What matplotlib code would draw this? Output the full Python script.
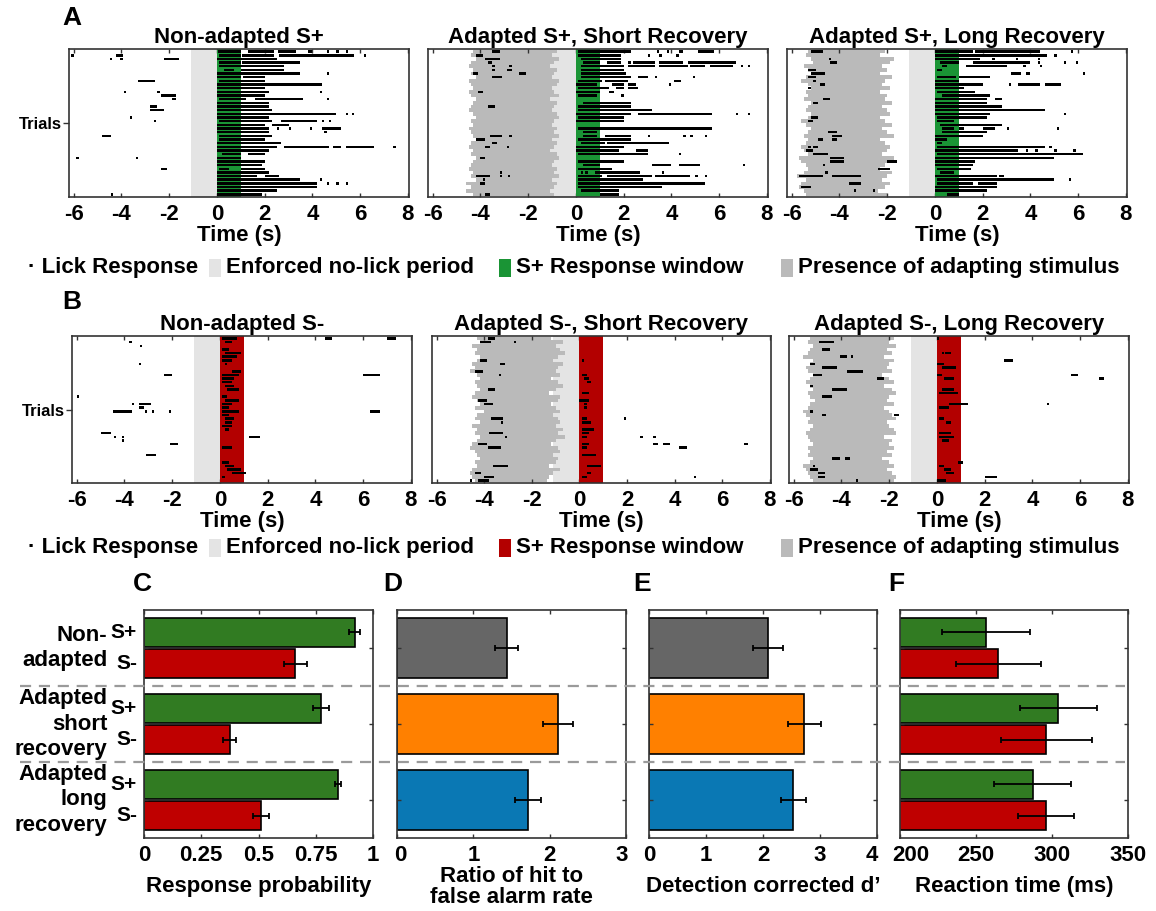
import numpy as np
import matplotlib
matplotlib.use("Agg")
import matplotlib.pyplot as plt
from matplotlib.patches import Rectangle
from matplotlib.lines import Line2D
from matplotlib import transforms

plt.rcParams['font.family'] = ['Liberation Sans', 'DejaVu Sans']
plt.rcParams['font.weight'] = 'bold'
plt.rcParams['axes.titleweight'] = 'bold'
plt.rcParams['axes.labelweight'] = 'bold'
plt.rcParams['axes.unicode_minus'] = False

# ---------------- raster data ----------------
n_trials = 40
nolick_period = (-1.1, 0.0)
response_window = (0.0, 1.0)
raster_ticks = [-6, -4, -2, 0, 2, 4, 6, 8]

# adapting stimulus on/off per trial (s)
adapt_splus_short_on = [-4.3, -4.4, -4.2, -4.4, -4.5, -4.3, -4.4, -4.2, -4.5, -4.4,
                        -4.3, -4.5, -4.4, -4.2, -4.3, -4.4, -4.5, -4.3, -4.2, -4.4,
                        -4.3, -4.5, -4.4, -4.3, -4.2, -4.4, -4.5, -4.3, -4.4, -4.2,
                        -4.3, -4.4, -4.5, -4.3, -4.4, -4.2, -4.6, -4.4, -4.6, -4.3]
adapt_splus_short_off = [-0.8, -1.0, -0.7, -0.9, -1.1, -0.8, -0.9, -1.0, -0.7, -0.8,
                         -1.0, -0.9, -0.7, -1.1, -0.8, -0.9, -1.0, -0.8, -0.7, -0.9,
                         -1.0, -0.8, -0.9, -0.7, -1.0, -0.8, -0.9, -1.1, -0.8, -0.7,
                         -0.9, -1.0, -0.8, -0.9, -0.7, -1.0, -0.8, -0.9, -1.1, -0.9]
adapt_splus_long_on = [-5.3, -5.4, -5.2, -5.1, -5.5, -5.3, -5.2, -5.4, -5.6, -5.3,
                       -5.2, -5.4, -5.3, -5.5, -5.2, -5.3, -5.4, -5.2, -5.3, -5.6,
                       -5.4, -5.2, -5.3, -5.5, -5.3, -5.4, -5.6, -5.5, -5.3, -5.7,
                       -5.6, -5.4, -5.3, -5.5, -5.8, -5.4, -5.6, -5.7, -5.5, -5.4]
adapt_splus_long_off = [-2.1, -2.3, -1.7, -1.9, -2.2, -2.0, -2.3, -1.8, -2.1, -2.2,
                        -1.9, -2.3, -2.0, -2.1, -1.8, -2.2, -2.0, -1.9, -2.3, -2.1,
                        -1.8, -2.2, -2.0, -1.7, -2.3, -2.1, -1.9, -2.0, -2.2, -1.7,
                        -1.9, -2.1, -2.3, -1.8, -2.0, -2.2, -1.9, -2.1, -2.4, -2.0]
adapt_sminus_short_on = [-4.3, -4.2, -4.5, -4.3, -4.4, -4.2, -4.3, -4.5, -4.4, -4.6,
                         -4.3, -4.2, -4.4, -4.3, -4.2, -4.4, -4.5, -4.3, -4.2, -4.4,
                         -4.0, -4.3, -4.4, -4.2, -4.5, -4.3, -4.4, -4.2, -4.3, -4.5,
                         -4.6, -4.4, -4.3, -4.2, -4.4, -4.3, -4.5, -4.6, -4.5, -4.4]
adapt_sminus_short_off = [-1.2, -0.7, -1.0, -0.8, -0.6, -0.9, -1.1, -0.7, -0.9, -1.0,
                          -0.8, -1.2, -0.9, -0.7, -1.0, -1.3, -0.8, -0.9, -1.2, -1.0,
                          -0.8, -1.1, -0.9, -0.8, -1.0, -0.7, -0.9, -0.6, -1.0, -1.2,
                          -0.9, -0.8, -1.1, -0.9, -1.0, -1.3, -0.8, -1.1, -1.3, -1.35]
adapt_sminus_long_on = [-5.3, -5.4, -5.2, -5.3, -5.4, -5.6, -5.2, -5.3, -5.5, -5.4,
                        -5.2, -5.3, -5.5, -5.3, -5.2, -5.4, -5.3, -5.1, -5.3, -5.4,
                        -5.6, -5.5, -5.3, -5.4, -5.2, -5.3, -5.5, -5.4, -5.3, -5.2,
                        -5.4, -5.3, -5.4, -5.2, -5.3, -5.6, -5.5, -5.4, -5.3, -5.2]
adapt_sminus_long_off = [-1.8, -2.0, -1.7, -2.1, -1.9, -2.2, -1.8, -2.0, -2.1, -1.9,
                         -2.3, -2.0, -1.8, -2.2, -1.9, -1.7, -2.0, -2.1, -1.8, -2.2,
                         -2.0, -1.9, -1.7, -2.1, -2.0, -1.8, -1.7, -2.2, -1.9, -2.0,
                         -1.8, -2.1, -1.9, -2.3, -2.0, -1.8, -2.1, -1.9, -1.7, -1.8]

# lick bouts: (trial, start s, end s)
licks_splus_non = [
    (0, 0.05, 1.0), (0, 1.3, 2.4), (0, 2.55, 3.3), (0, 3.8, 4.0), (0, 4.6, 4.7), (0, 5.0, 5.1), (0, 5.4, 5.5),
    (1, -6.1, -6.0), (1, -4.25, -3.95), (1, 0.1, 1.0), (1, 1.05, 2.4), (1, 2.6, 5.75), (1, 6.15, 6.25),
    (2, -4.5, -4.4), (2, -4.05, -3.95), (2, -2.2, -1.6), (2, 0.0, 2.5),
    (3, 0.1, 1.0), (3, 1.05, 3.5), (4, 0.1, 2.8), (5, 0.3, 0.7), (5, 1.0, 2.8),
    (6, 0.0, 3.5), (6, 4.6, 4.7), (7, 0.0, 1.0), (7, 1.1, 2.0),
    (8, -3.3, -2.6), (8, 0.1, 2.0), (9, 0.0, 4.4), (10, 0.0, 2.0),
    (11, -3.9, -3.8), (11, -2.5, -2.4), (11, 0.0, 2.2), (11, 4.3, 4.4),
    (12, -2.35, -1.7), (12, 0.0, 2.0),
    (13, -1.9, -1.7), (13, 0.1, 1.2), (13, 1.6, 3.6), (13, 4.6, 4.7),
    (14, 0.0, 2.2), (15, -2.8, -2.5), (15, 0.0, 2.2), (16, -2.8, -2.2), (16, 0.0, 2.3),
    (17, 0.0, 5.0), (17, 5.4, 5.5), (17, 5.65, 5.75),
    (18, -3.65, -3.55), (18, 0.0, 2.2),
    (19, -2.65, -2.55), (19, 0.1, 2.3), (19, 2.7, 4.2), (19, 4.4, 4.5), (19, 4.7, 4.8),
    (20, 0.0, 2.0), (20, 2.3, 3.0),
    (21, 0.0, 2.2), (21, 2.5, 2.6), (21, 3.0, 3.1), (21, 3.9, 4.0), (21, 4.4, 5.2),
    (22, 0.0, 2.2), (22, 4.5, 4.6), (23, -4.8, -4.45), (23, 0.1, 2.3),
    (24, 0.1, 1.0), (24, 1.0, 2.0), (25, 0.0, 2.7),
    (26, 0.0, 2.5), (26, 2.8, 4.7), (26, 4.85, 5.2), (26, 5.4, 6.6), (26, 7.4, 7.5),
    (27, 0.0, 2.2), (28, 0.2, 1.0), (28, 1.3, 2.0),
    (29, -5.9, -5.8), (29, -3.4, -3.3), (29, 0.0, 1.0),
    (30, 0.0, 2.0), (31, 0.0, 1.9), (32, -2.35, -2.1), (32, 0.1, 0.5), (32, 1.0, 2.0),
    (33, 0.0, 2.2), (34, 0.0, 1.7), (34, 2.0, 2.6), (35, 0.0, 3.5), (35, 4.3, 4.4),
    (36, 0.0, 4.2), (36, 4.6, 4.7), (36, 5.0, 5.1), (36, 5.4, 5.5),
    (37, 0.0, 4.2), (38, 0.0, 2.5), (39, -4.45, -4.35), (39, 0.0, 1.9),
]
licks_splus_short = [
    (0, -3.5, -3.2), (0, 0.1, 2.3), (0, 3.4, 3.5), (0, 3.8, 3.9), (0, 4.3, 4.5), (0, 5.1, 5.8),
    (1, -4.2, -3.9), (1, 0.1, 1.9), (1, 3.0, 3.1), (1, 3.5, 3.6), (1, 4.2, 4.3),
    (2, -3.8, -3.2), (2, 0.2, 1.9),
    (3, -3.7, -3.5), (3, 0.3, 1.0), (3, 1.3, 1.9), (3, 2.2, 2.3), (3, 2.4, 3.3), (3, 3.5, 4.5), (3, 4.7, 6.7),
    (4, -3.5, -3.4), (4, -2.8, -2.7), (4, 0.2, 1.0), (4, 1.0, 2.0), (4, 2.2, 3.3), (4, 3.5, 4.7),
    (4, 4.8, 5.4), (4, 5.6, 6.6), (4, 6.9, 7.0), (4, 7.2, 7.3),
    (5, -3.5, -3.4), (5, -2.9, -2.7), (5, 0.2, 2.0),
    (6, -4.3, -4.1), (6, -2.4, -2.1), (6, 0.2, 2.1),
    (7, -3.5, -3.1), (7, 0.2, 2.3), (7, 2.6, 3.0), (7, 3.3, 3.4), (7, 4.9, 5.0),
    (8, 0.1, 1.1), (8, 1.2, 2.2), (8, 4.1, 4.4),
    (9, 0.0, 0.9), (9, 1.5, 2.0), (9, 2.2, 2.5), (9, 3.9, 4.0),
    (10, 0.1, 1.4), (10, 1.7, 2.0), (10, 2.2, 2.6),
    (11, -4.1, -3.9), (11, 0.0, 1.0), (11, 1.4, 1.6), (12, 0.1, 0.9), (12, 1.9, 2.0),
    (14, 0.3, 2.3), (15, -3.7, -3.4), (15, 0.1, 2.3), (16, 0.1, 3.2),
    (17, 0.0, 2.3), (17, 2.6, 5.7), (17, 6.7, 6.8), (17, 7.2, 7.3),
    (18, 0.1, 2.0), (19, 0.0, 2.0), (21, 0.1, 5.7), (22, 0.3, 0.9),
    (23, -3.6, -3.1), (23, -2.8, -2.7), (23, 0.3, 0.9), (23, 1.2, 2.3), (23, 3.0, 3.1),
    (23, 4.5, 4.6), (23, 4.8, 4.9), (23, 5.4, 5.5),
    (24, -4.2, -3.8), (24, 0.1, 2.3), (25, -3.5, -3.3), (25, 0.2, 1.2), (25, 1.3, 3.9),
    (26, -3.8, -3.6), (26, -2.9, -2.8), (26, 0.0, 2.0), (27, 0.0, 1.8), (27, 2.5, 3.0),
    (28, 0.1, 3.0), (28, 4.3, 4.4), (29, -4.0, -3.8), (30, 0.1, 1.5), (30, 1.5, 2.0),
    (31, 0.3, 1.0), (31, 3.2, 4.0), (31, 4.3, 5.2), (31, 7.0, 7.1),
    (32, 0.1, 1.0), (32, 1.0, 1.5),
    (33, -3.2, -3.1), (33, 0.2, 0.3), (33, 0.4, 0.5), (33, 0.8, 2.7), (33, 3.6, 3.7),
    (34, -4.2, -3.6), (34, -3.2, -3.1), (34, -2.85, -2.75), (34, 0.1, 1.1), (34, 1.3, 3.2),
    (34, 3.3, 4.8), (34, 5.0, 5.1), (34, 5.4, 5.5),
    (35, -3.9, -3.8), (35, 0.1, 2.8), (36, -4.0, -3.8), (36, 0.1, 5.4),
    (37, 0.1, 3.6), (38, 0.2, 1.8), (39, -3.8, -3.6), (39, 1.0, 1.8),
]
licks_splus_long = [
    (0, -5.2, -4.7), (0, 0.0, 1.6), (0, 1.7, 4.4), (0, 5.7, 5.8),
    (1, 0.0, 1.0), (1, 1.0, 4.7), (1, 5.0, 5.1),
    (2, -4.45, -4.35), (2, 0.0, 1.9), (2, 2.4, 2.5), (2, 3.4, 3.5), (2, 4.3, 4.4),
    (3, -4.4, -4.1), (3, 0.2, 1.0), (3, 1.6, 4.0), (3, 4.3, 4.4), (3, 5.4, 5.5), (3, 5.9, 6.0),
    (4, 0.3, 0.5), (4, 1.3, 3.0), (4, 3.7, 3.8), (4, 4.4, 4.5),
    (5, -5.3, -5.0), (5, 0.1, 0.3),
    (6, -5.2, -4.6), (6, 3.2, 3.6), (6, 3.8, 4.0), (6, 6.2, 6.3),
    (7, -5.3, -5.0), (7, 0.1, 0.9), (7, 1.0, 2.3), (8, -5.1, -5.0), (8, 0.0, 1.0),
    (9, -4.8, -4.6), (9, 0.0, 2.0), (9, 3.1, 3.2), (9, 3.5, 4.4), (9, 4.6, 5.3),
    (10, -5.3, -5.2), (10, 0.0, 1.2), (11, 0.1, 1.7), (12, 0.3, 1.5), (12, 1.5, 2.3),
    (13, -4.7, -4.4), (13, 0.0, 2.2), (13, 2.5, 2.8), (14, -5.1, -4.9), (14, 0.0, 2.2),
    (15, 0.0, 2.8), (16, 0.0, 2.0), (16, 2.0, 4.6), (17, 0.0, 2.3), (17, 5.4, 5.5),
    (18, -5.2, -4.9), (18, 0.1, 2.2), (19, -5.3, -5.1), (19, 0.1, 0.8), (20, 0.2, 2.8),
    (21, 0.3, 0.8), (21, 1.0, 1.2), (21, 2.0, 2.5), (21, 3.0, 3.1), (21, 5.1, 5.2),
    (22, -4.5, -4.1), (22, 0.3, 1.2), (22, 1.2, 2.2), (23, -4.3, -3.9), (23, 0.0, 2.0),
    (24, -4.9, -4.7), (24, -4.3, -4.1), (24, 0.0, 0.5), (25, 0.1, 0.3),
    (26, -5.3, -5.2), (26, -5.1, -4.9), (26, 0.1, 4.6), (26, 4.8, 4.9),
    (27, -5.4, -5.1), (27, 0.0, 3.5), (27, 3.8, 3.9), (27, 4.2, 4.3), (27, 5.0, 5.1), (27, 5.8, 5.9),
    (28, -5.1, -4.5), (28, 0.1, 6.2), (29, -4.4, -3.8), (29, 0.0, 2.0), (29, 2.0, 5.0),
    (30, -4.4, -3.8), (30, -2.0, -1.6), (30, 0.0, 1.7), (31, -4.7, -4.6), (31, 0.0, 1.6),
    (32, -2.4, -1.9), (32, 0.1, 1.5), (33, -4.6, -4.5), (33, 0.2, 0.8),
    (34, -5.7, -4.7), (34, -4.3, -3.1), (34, 0.0, 1.0), (34, 1.0, 2.6), (34, 2.7, 2.9),
    (35, 0.1, 5.0), (35, 5.6, 5.7), (36, -3.6, -3.1), (36, 0.1, 1.6), (36, 1.8, 2.6),
    (37, -5.6, -5.2), (37, 0.0, 2.6), (38, -3.4, -3.3), (38, -2.6, -2.5), (38, 0.0, 2.2),
    (39, 0.5, 1.0),
]
licks_sminus_non = [
    (0, 0.1, 0.7), (0, 4.4, 4.7), (0, 7.0, 7.4), (1, -3.8, -3.7), (1, 0.2, 0.5),
    (2, -3.35, -3.25), (3, 0.1, 0.4), (4, 0.2, 0.9), (5, 0.1, 0.7), (6, 0.1, 0.5),
    (7, -3.4, -3.3), (7, 0.2, 0.3), (9, 0.5, 0.9), (10, -2.35, -2.0), (10, 0.1, 0.8),
    (10, 6.0, 6.7), (11, 0.1, 0.6), (12, 0.1, 0.5), (13, 0.2, 0.6), (14, 0.3, 0.8),
    (16, -6.0, -5.9), (16, 0.1, 0.3), (17, 0.2, 0.8),
    (18, -3.7, -3.6), (18, -3.4, -2.9), (18, 0.1, 0.5), (19, -3.4, -3.2), (19, 0.1, 0.4),
    (20, -4.5, -3.7), (20, -3.15, -3.05), (20, -2.85, -2.75), (20, -2.15, -2.05),
    (20, 0.1, 0.8), (20, 6.3, 6.7), (21, 0.1, 0.4), (22, 0.2, 0.6), (23, 0.2, 0.5),
    (24, 0.1, 0.5), (25, 0.2, 0.4), (26, -5.0, -4.55),
    (27, -4.45, -4.35), (27, -4.1, -4.0), (27, 1.2, 1.7), (28, -4.1, -4.0),
    (29, -2.1, -1.75), (30, 0.1, 0.5), (32, -3.1, -2.7), (34, 0.1, 0.4),
    (35, 0.2, 0.6), (36, 0.3, 0.9), (37, 0.5, 1.1), (38, 0.1, 0.2),
]
licks_sminus_short = [
    (0, -3.85, -3.55), (1, -4.2, -3.7), (1, -2.75, -2.65), (6, -4.2, -3.9), (6, 0.1, 0.2),
    (7, -3.35, -3.15), (9, -4.4, -4.05), (10, -3.4, -3.3), (10, 0.1, 0.3), (11, 0.2, 0.4),
    (12, 0.3, 0.5), (14, -3.85, -3.55), (15, 0.1, 0.4), (17, -4.25, -3.9), (17, 0.0, 0.4),
    (18, -4.0, -3.65), (18, 0.2, 0.3), (19, 0.2, 0.3),
    (22, -3.7, -3.2), (22, 0.1, 0.3), (22, 1.85, 1.95), (23, -3.3, -3.2), (23, 0.1, 0.5),
    (25, 0.1, 0.6), (26, -3.8, -3.2), (26, 0.1, 0.4), (27, 0.1, 0.3),
    (27, -3.15, -3.05), (27, 2.55, 2.65), (27, 3.1, 3.2),
    (29, -4.25, -3.9), (29, 0.1, 0.4), (29, 3.1, 3.3), (29, 3.5, 3.8), (29, 6.9, 7.1),
    (30, -3.85, -3.3), (30, 0.1, 0.3), (30, 4.2, 4.5), (32, 0.1, 0.7),
    (35, -3.65, -3.0), (35, 0.3, 0.9), (37, -4.4, -4.15), (37, 0.3, 0.5),
    (38, -4.0, -3.6), (38, 0.1, 0.3), (38, 4.8, 4.9), (39, -4.25, -3.8), (39, -4.6, -4.5),
]
licks_sminus_long = [
    (0, 0.0, 0.1), (1, -4.95, -4.3), (3, -4.8, -4.5), (4, 0.2, 0.3), (4, 0.35, 0.6),
    (5, -4.05, -3.75), (5, -3.6, -3.5), (6, 2.8, 3.2), (7, -5.3, -5.1), (7, 0.0, 0.3),
    (8, -4.8, -4.2), (8, 0.2, 0.8), (9, -3.75, -3.1), (10, -5.2, -4.8), (10, 0.0, 0.2),
    (10, 5.6, 5.9), (11, -2.5, -2.2), (11, 0.3, 0.7), (11, 6.8, 7.0), (13, -5.3, -5.2),
    (14, -4.4, -3.75), (14, 0.2, 0.7), (15, 0.1, 0.9), (16, -4.8, -4.4),
    (18, 0.5, 1.3), (18, 4.6, 4.7), (19, 0.1, 0.5), (20, -5.3, -5.2),
    (21, -4.8, -4.65), (21, -1.8, -1.6), (22, 0.1, 0.3), (23, 0.4, 0.6),
    (26, 0.1, 0.6), (27, 0.1, 0.7), (28, 0.2, 0.5), (33, -4.4, -4.05), (33, -3.85, -3.65),
    (34, 0.9, 1.1), (35, -5.2, -5.1), (35, 0.1, 0.3), (36, -5.3, -5.0), (36, 0.3, 0.6),
    (37, -5.0, -4.7), (37, 0.4, 0.7), (38, -5.0, -4.7), (38, 2.0, 2.5),
    (39, -3.4, -3.3), (39, 0.0, 0.4),
]

# ---------------- summary data ----------------
conditions = ["Non-\nadapted", "Adapted\nshort\nrecovery", "Adapted\nlong\nrecovery"]
stim_labels = ["S+", "S-"]
resp_prob = [0.92, 0.661, 0.772, 0.375, 0.847, 0.51]
resp_prob_err = [0.023, 0.05, 0.036, 0.028, 0.015, 0.035]
hit_fa_ratio = [1.437, 2.11, 1.716]
hit_fa_ratio_err = [0.148, 0.195, 0.175]
dprime = [2.09, 2.72, 2.53]
dprime_err = [0.266, 0.29, 0.216]
reaction_time = [256.7, 264.8, 304.2, 296.3, 287.4, 296.3]
reaction_time_err = [29.0, 28.2, 25.2, 30.0, 25.4, 18.5]

GREEN = '#1a9435'
RED = '#b30000'
NOLICK = '#e4e4e4'
ADAPT = '#bababa'
BAR_GREEN = '#317b22'
BAR_RED = '#bf0000'
COND_COLORS = ['#666666', '#ff8000', '#0a78b4']

W, H = 1156, 911
fig = plt.figure(figsize=(W / 100, H / 100), dpi=100)


def add_ax(left, top, right, bottom):
    return fig.add_axes([left / W, 1 - bottom / H, (right - left) / W, (bottom - top) / H])


def style_axes(ax):
    for sp in ax.spines.values():
        sp.set_color('#333333')
        sp.set_linewidth(1.2)
    ax.tick_params(direction='in', top=True, right=True, length=3, width=1,
                   labelsize=16, pad=5, color='#333333')


def shift_label(label, dx_px):
    label.set_transform(label.get_transform() +
                        transforms.ScaledTranslation(dx_px / 100, 0, fig.dpi_scale_trans))


def raster(ax, licks, adapt_on, adapt_off, win_color, title, trials_label):
    ax.axvspan(*nolick_period, color=NOLICK, lw=0, zorder=0)
    if adapt_on is not None:
        on = np.array(adapt_on)
        off = np.array(adapt_off)
        ax.barh(np.arange(n_trials), off - on, left=on, height=1.0,
                color=ADAPT, lw=0, zorder=1)
    ax.axvspan(*response_window, color=win_color, lw=0, zorder=2)
    tr, t0, t1 = np.array(licks).T
    ax.barh(tr, np.maximum(t1 - t0, 0.1), left=t0, height=0.7, color='black', lw=0, zorder=3)
    ax.set_xlim(-6.2, 8.05)
    ax.set_ylim(n_trials - 0.3, -0.7)
    ax.set_xticks(raster_ticks)
    style_axes(ax)
    ax.tick_params(axis='y', right=False)
    if trials_label:
        ax.set_yticks([n_trials / 2 - 0.5])
        ax.set_yticklabels(['Trials'])
        ax.tick_params(axis='y', direction='out', length=4, labelsize=12, pad=1)
    else:
        ax.set_yticks([])
    ax.set_xlabel('Time (s)', fontsize=16, labelpad=0)
    ax.set_title(title, fontsize=16, pad=4)


row_a = [(69, 409), (428, 768), (787, 1127)]
row_b = [(72, 412), (432, 771), (789, 1129)]

panels_a = [
    (licks_splus_non, None, None, 'Non-adapted S+'),
    (licks_splus_short, adapt_splus_short_on, adapt_splus_short_off, 'Adapted S+, Short Recovery'),
    (licks_splus_long, adapt_splus_long_on, adapt_splus_long_off, 'Adapted S+, Long Recovery'),
]
panels_b = [
    (licks_sminus_non, None, None, 'Non-adapted S-'),
    (licks_sminus_short, adapt_sminus_short_on, adapt_sminus_short_off, 'Adapted S-, Short Recovery'),
    (licks_sminus_long, adapt_sminus_long_on, adapt_sminus_long_off, 'Adapted S-, Long Recovery'),
]
for i, ((l, r), p) in enumerate(zip(row_a, panels_a)):
    ax = add_ax(l, 49, r, 197)
    raster(ax, p[0], p[1], p[2], GREEN, p[3], i == 0)
for i, ((l, r), p) in enumerate(zip(row_b, panels_b)):
    ax = add_ax(l, 336, r, 483)
    raster(ax, p[0], p[1], p[2], RED, p[3], i == 0)


def legend_row(y, win_color):
    yc = 1 - y / H
    fig.text(28 / W, yc, '\u00b7 Lick Response', fontsize=16, va='center', ha='left')
    for x0, c, label in [(209, NOLICK, 'Enforced no-lick period'),
                         (499, win_color, 'S+ Response window'),
                         (781, ADAPT, 'Presence of adapting stimulus')]:
        fig.add_artist(Rectangle((x0 / W, yc - 9 / H), 12 / W, 18 / H,
                                 transform=fig.transFigure, color=c, lw=0))
        fig.text((x0 + 17) / W, yc, label, fontsize=16, va='center', ha='left')


legend_row(268, GREEN)
legend_row(548, RED)

# ---------------- bar panels ----------------
pair_pos = np.array([0, 1, 2.4, 3.4, 4.8, 5.8])
group_pos = np.array([0.5, 2.9, 5.3])
ylims = (6.5, -0.7)
err_kw = dict(ecolor='black', elinewidth=1.3, capsize=2.5, capthick=1.3)
pair_colors = [BAR_GREEN, BAR_RED] * 3

axC = add_ax(144, 610, 373, 838)
axC.barh(pair_pos, resp_prob, height=0.92, color=pair_colors, edgecolor='black',
         lw=1.2, xerr=resp_prob_err, error_kw=err_kw)
axC.set_xlim(0, 1)
axC.set_xticks([0, 0.25, 0.5, 0.75, 1])
axC.set_xticklabels(['0', '0.25', '0.5', '0.75', '1'])
axC.set_xlabel('Response probability', fontsize=16, labelpad=7)

axD = add_ax(397, 610, 626, 838)
axD.barh(group_pos, hit_fa_ratio, height=1.92, color=COND_COLORS, edgecolor='black',
         lw=1.2, xerr=hit_fa_ratio_err, error_kw=err_kw)
axD.set_xlim(0, 3)
axD.set_xticks([0, 1, 2, 3])
axD.set_xlabel('Ratio of hit to\nfalse alarm rate', fontsize=16, labelpad=0,
               linespacing=1.0)

axE = add_ax(649, 610, 877, 838)
axE.barh(group_pos, dprime, height=1.92, color=COND_COLORS, edgecolor='black',
         lw=1.2, xerr=dprime_err, error_kw=err_kw)
axE.set_xlim(0, 4)
axE.set_xticks([0, 1, 2, 3, 4])
axE.set_xlabel('Detection corrected d\u2019', fontsize=16, labelpad=7)

axF = add_ax(900, 610, 1128, 838)
axF.barh(pair_pos, reaction_time, height=0.92, color=pair_colors, edgecolor='black',
         lw=1.2, xerr=reaction_time_err, error_kw=err_kw)
axF.set_xlim(200, 350)
axF.set_xticks([200, 250, 300, 350])
axF.set_xlabel('Reaction time (ms)', fontsize=16, labelpad=7)

for ax in (axC, axD, axE, axF):
    ax.set_ylim(*ylims)
    ax.set_yticks(group_pos)
    ax.set_yticklabels([])
    style_axes(ax)

# keep the end labels of neighbouring axes apart
shift_label(axE.get_xticklabels()[-1], -5)
shift_label(axF.get_xticklabels()[0], 11)
shift_label(axD.get_xticklabels()[-1], -4)
shift_label(axD.get_xticklabels()[0], 3)

# stimulus and condition labels left of panel C
for y, lab in zip(pair_pos, stim_labels * 3):
    axC.text(-0.03, y, lab, transform=axC.get_yaxis_transform(), ha='right', va='center',
             fontsize=15)
for y, lab in zip(group_pos, conditions):
    axC.text(-0.16, y, lab, transform=axC.get_yaxis_transform(), ha='right', va='center',
             fontsize=16, linespacing=1.3)

# group separators across all bar panels
trans = transforms.blended_transform_factory(fig.transFigure, axC.transData)
for y in [1.7, 4.1]:
    fig.add_artist(Line2D([20 / W, 1125 / W], [y, y], transform=trans, color='#9a9a9a',
                          lw=1.6, linestyle=(0, (5, 3.5))))

# panel letters
for letter, x, y in [('A', 62, 18), ('B', 62, 302), ('C', 133, 584),
                     ('D', 383, 584), ('E', 633, 584), ('F', 888, 584)]:
    fig.text(x / W, 1 - y / H, letter, fontsize=19, va='center', ha='left')

fig.savefig('out.png', dpi=100)
